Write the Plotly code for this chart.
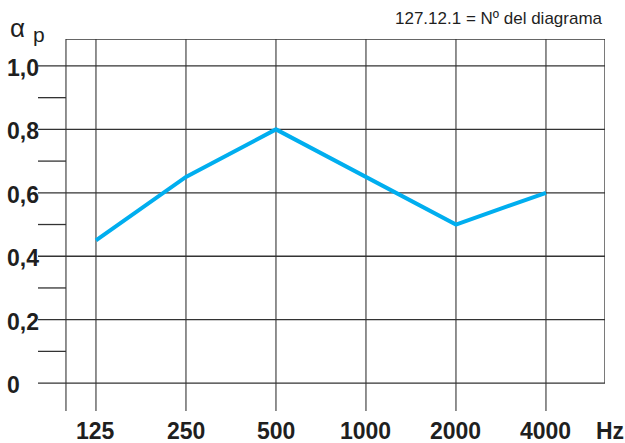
import plotly.graph_objects as go

# ---- data ----
frequencies = ["125", "250", "500", "1000", "2000", "4000"]
alpha_p = [0.45, 0.65, 0.80, 0.65, 0.50, 0.60]
major_ticks = [0, 0.2, 0.4, 0.6, 0.8, 1.0]
major_labels = ["0", "0,2", "0,4", "0,6", "0,8", "1,0"]
minor_ticks = [0.1, 0.3, 0.5, 0.7, 0.9]
unit_label = "Hz"
diagram_note = "127.12.1 = Nº del diagrama"

# ---- layout geometry (styles) ----
X_MIN, X_MAX = -0.644, 5.656      # full drawing area in category-index units
Y_MIN, Y_MAX = -0.088, 1.085
FRAME_LEFT = -1 / 3
FONT = "Liberation Sans, Arial, sans-serif"
GRID = "#333333"
GRID_V = "#555555"
TXT = "#1f1f1f"

xs = list(range(len(frequencies)))

fig = go.Figure()
fig.add_trace(go.Scatter(
    x=xs, y=alpha_p, mode="lines",
    line=dict(color="#00AEEF", width=4),
    hoverinfo="skip", showlegend=False,
))

shapes = []
for xv in xs:
    shapes.append(dict(type="line", xref="x", yref="y", x0=xv, x1=xv,
                       y0=Y_MIN, y1=Y_MAX, line=dict(color=GRID_V, width=1.3), layer="below"))
shapes.append(dict(type="line", xref="x", yref="y", x0=FRAME_LEFT, x1=FRAME_LEFT,
                   y0=Y_MIN, y1=Y_MAX, line=dict(color=GRID_V, width=1.3), layer="below"))
shapes.append(dict(type="line", xref="x", yref="y", x0=X_MAX, x1=X_MAX,
                   y0=major_ticks[0], y1=Y_MAX, line=dict(color=GRID, width=1.3), layer="below"))
shapes.append(dict(type="line", xref="x", yref="y", x0=FRAME_LEFT, x1=X_MAX,
                   y0=Y_MAX, y1=Y_MAX, line=dict(color=GRID, width=1.3), layer="below"))
for yv in major_ticks:
    shapes.append(dict(type="line", xref="x", yref="y", x0=X_MIN, x1=X_MAX,
                       y0=yv, y1=yv, line=dict(color=GRID, width=1.3), layer="below"))
for yv in minor_ticks:
    shapes.append(dict(type="line", xref="x", yref="y", x0=X_MIN, x1=FRAME_LEFT,
                       y0=yv, y1=yv, line=dict(color=GRID, width=1.3), layer="below"))

annotations = []
for xv, lab in zip(xs, frequencies):
    annotations.append(dict(x=xv, y=0, xref="x", yref="paper", text=lab,
                            showarrow=False, xanchor="center", yanchor="middle", yshift=-20,
                            font=dict(family=FONT, size=23, color=TXT, weight="bold")))
annotations.append(dict(x=1, y=0, xref="paper", yref="paper", text=unit_label,
                        showarrow=False, xanchor="center", yanchor="middle", yshift=-20, xshift=5,
                        font=dict(family=FONT, size=23, color=TXT, weight="bold")))
for yv, lab in zip(major_ticks, major_labels):
    annotations.append(dict(x=0, y=yv, xref="paper", yref="y", text=lab,
                            showarrow=False, xanchor="left", yanchor="middle", xshift=-33, yshift=-2,
                            font=dict(family=FONT, size=23, color=TXT, weight="bold")))
annotations.append(dict(x=1, y=1, xref="paper", yref="paper", text=diagram_note,
                        showarrow=False, xanchor="right", yanchor="middle", yshift=21,
                        font=dict(family=FONT, size=17, color=TXT)))
annotations.append(dict(x=0, y=1, xref="paper", yref="paper", text="α",
                        showarrow=False, xanchor="left", yanchor="middle", xshift=-30, yshift=11,
                        font=dict(family=FONT, size=26, color=TXT)))
annotations.append(dict(x=0, y=1, xref="paper", yref="paper", text="p",
                        showarrow=False, xanchor="left", yanchor="middle", xshift=-7, yshift=5,
                        font=dict(family=FONT, size=21, color=TXT)))

fig.update_layout(
    width=625, height=443,
    margin=dict(l=38, r=20, t=39, b=32),
    paper_bgcolor="white", plot_bgcolor="white",
    xaxis=dict(range=[X_MIN, X_MAX], showgrid=False, zeroline=False,
               showticklabels=False, showline=False, fixedrange=True),
    yaxis=dict(range=[Y_MIN, Y_MAX], showgrid=False, zeroline=False,
               showticklabels=False, showline=False, fixedrange=True),
    shapes=shapes, annotations=annotations,
    showlegend=False,
)

fig.write_html("out.html", config={"displayModeBar": False},
               post_script="document.body.style.margin='0';")
